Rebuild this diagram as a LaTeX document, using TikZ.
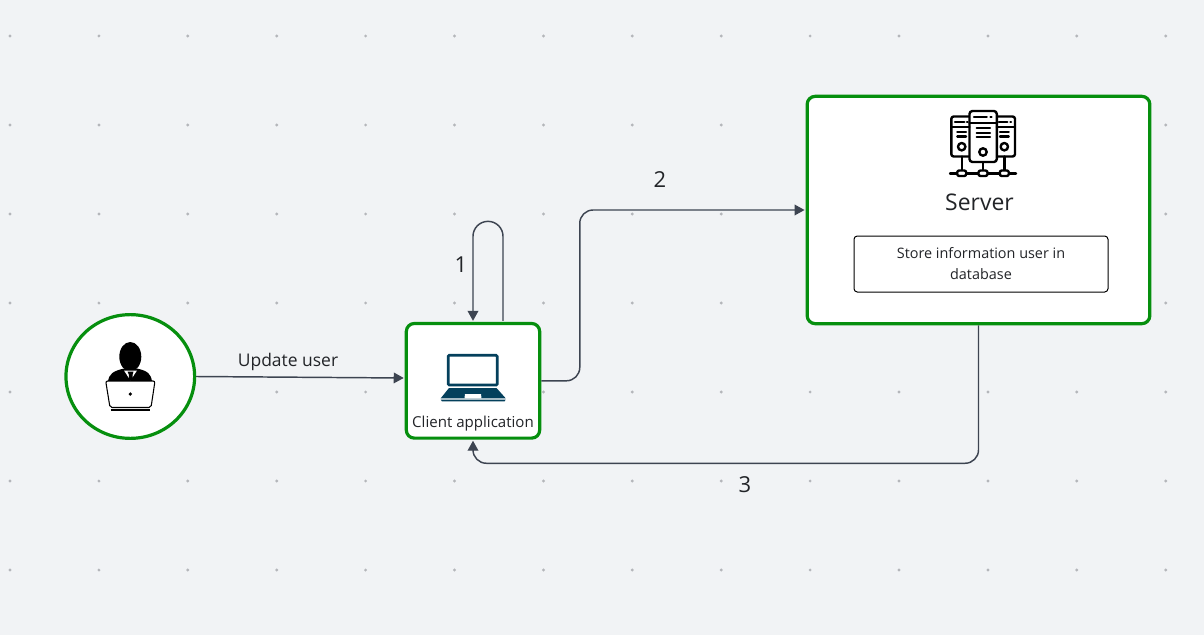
\documentclass[tikz,border=0pt]{standalone}
\usepackage{fontspec}
\setmainfont{Open Sans}
\usetikzlibrary{calc,arrows.meta,shapes.geometric}
\definecolor{bgc}{HTML}{F1F3F5}
\definecolor{grn}{HTML}{068F0E}
\definecolor{edgec}{HTML}{3D4451}
\definecolor{txt}{HTML}{222428}
\definecolor{teal}{HTML}{04405C}
\definecolor{dotc}{HTML}{B4B6BA}
\tikzset{
  card/.style={draw=grn,line width=2.4pt,fill=white,rounded corners=6pt,inner sep=0pt,minimum width=#1},
  flow/.style={draw=edgec,line width=1.1pt,rounded corners=10pt,-{Triangle[length=7.5pt,width=8pt]}},
  lbl/.style={text=txt,inner sep=0pt,font=\fontsize{16.5}{20}\selectfont},
  srv/.style={line width=1.8pt,line cap=round,line join=round,draw=black},
}
\begin{document}
\begin{tikzpicture}[x=0.75pt,y=-0.75pt]
\useasboundingbox (0,0) rectangle (1204,635);
\fill[bgc] (0,0) rectangle (1204,635);
\foreach \yy in {36,125,214,303,392,481,570}
  \foreach \i in {0,...,13}
    \fill[dotc] ({10+88.9*\i},\yy) circle (1.6);

% nodes
\node[ellipse,draw=grn,line width=2.4pt,fill=white,minimum width=96.5pt,minimum height=92.8pt,inner sep=0pt] (user) at (130.3,376.5) {};
\node[card=100pt,minimum height=86pt] (client) at (473,380.8) {};
\node[card=257pt,minimum height=170.5pt] (server) at (978.5,210) {};
\node[draw=black,line width=0.75pt,fill=white,rounded corners=2.5pt,minimum width=190.5pt,minimum height=42pt,inner sep=0pt,align=center,text=txt,font=\fontsize{10.8}{15.7}\selectfont] (store) at (981,264) {Store information user in\\database};

% connectors
\coordinate (clientin) at ($(client.west)+(-1,-2.8)$);
\coordinate (loopout) at ($(client.north)+(30,-1)$);
\coordinate (looptopr) at ($(client.north)+(30,-100.5)$);
\coordinate (looptopl) at ($(client.north)+(0,-100.5)$);
\coordinate (c2a) at ($(client.east)+(38.5,0)$);
\coordinate (c2b) at (c2a |- server.west);
\coordinate (c3a) at ($(server.south)+(0,138)$);
\coordinate (c3b) at (client.south |- c3a);
\draw[flow,rounded corners=0pt] (user.east) -- (clientin);
\draw[flow,rounded corners=11.2pt] (loopout) -- (looptopr) -- (looptopl) -- ($(client.north)+(0,-1)$);
\draw[flow] (client.east) -- (c2a) -- (c2b) -- ($(server.west)+(-1,0)$);
\draw[flow] (server.south) -- (c3a) -- (c3b) -- ($(client.south)+(0,1)$);

% labels
\node[lbl,font=\fontsize{13.1}{16}\selectfont] (tupd) at (288,362) {Update user};
\node[lbl] (t1) at (461,264.5) {1};
\node[lbl] (t2) at (660,179.5) {2};
\node[lbl] (t3) at (745,484.5) {3};
\node[lbl,font=\fontsize{11.3}{14}\selectfont] (tclient) at (473,424) {Client application};
\node[lbl,font=\fontsize{17.2}{21}\selectfont] (tserver) at (979.5,202.5) {Server};

% person icon
\fill[black] (130.3,356.7) ellipse (11 and 14.7);
\fill[black] (108,381.5) .. controls (109,374) and (113,371) .. (124,368.5) -- (137,368.5) .. controls (148,371) and (151,374) .. (152,381.5) -- cycle;
\fill[white] (124,370.5) -- (137,370.5) -- (130.5,380.5) -- cycle;
\fill[black] (127.5,371.5) -- (133.5,371.5) -- (132.5,375) -- (133,380.5) -- (128.5,380.5) -- (129,375) -- cycle;
\draw[black,line width=0.8pt,fill=white,rounded corners=1.5pt] (105.7,381) -- (155,381) -- (151,407.5) -- (110,407.5) -- cycle;
\draw[black,line width=1.2pt] (110.5,410) -- (150,410);
\fill[black] (130.3,394) circle (1.8);

% laptop icon
\draw[teal,line width=2pt,fill=white,rounded corners=0.8pt] (448.2,355.3) rectangle (497.2,385);
\fill[teal] (449,388) -- (496.5,388) -- (505.7,398.3) -- (440.7,398.3) -- cycle;
\fill[teal] (440.7,399.6) -- (505.7,399.6) -- (504.5,401.4) -- (442,401.4) -- cycle;
\fill[white] (465,394) -- (481,394) -- (481.5,398.3) -- (464.5,398.3) -- cycle;

% server icon
\draw[srv,fill=white,rounded corners=1.8pt] (951.3,116.5) rectangle (1015,156.5);
\draw[srv] (962,156.5) -- (962,173.3) (1004.3,156.5) -- (1004.3,173.3) (983,162) -- (983,173.3);
\draw[srv,fill=white,rounded corners=2.2pt] (969.5,111) rectangle (996.8,162);
\draw[srv] (951.3,127) -- (969.5,127) (996.8,127) -- (1015,127) (969.5,123.3) -- (996.8,123.3);
\draw[srv] (974,117.3) -- (986.7,117.3) (990.5,117.3) -- (991.5,117.3);
\draw[srv] (976.7,128.3) -- (990,128.3) (976.7,132.8) -- (990,132.8) (976.7,137.3) -- (990,137.3);
\draw[srv] (955,122) -- (964.3,122) (967,122) -- (967.6,122);
\draw[srv] (957.3,132.3) -- (966,132.3) (957.3,136.7) -- (966,136.7);
\draw[srv] (998.8,122) -- (1007.3,122) (1010.4,122) -- (1011,122);
\draw[srv] (1000,132.3) -- (1008.7,132.3) (1000,136.7) -- (1008.7,136.7);
\draw[srv] (961.7,146.7) circle (3.7) (1004.3,146.7) circle (3.7) (983,152) circle (3.7);
\draw[srv] (950,173.3) -- (1016,173.3);
\foreach \cx in {961.7,983,1004.3}
  \draw[srv,fill=white,rounded corners=1.5pt] (\cx-4.5,170.5) rectangle (\cx+4.5,176);
\end{tikzpicture}
\end{document}
